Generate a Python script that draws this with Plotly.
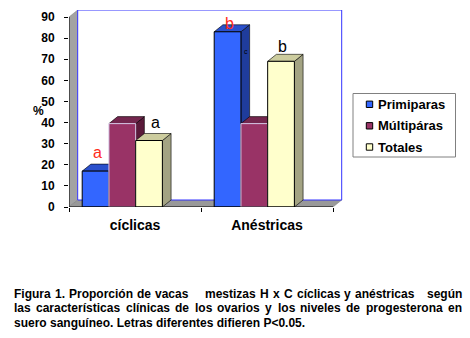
import plotly.graph_objects as go

# ---- data -------------------------------------------------------------
categories = ["cíclicas", "Anéstricas"]
series = ["Primiparas", "Múltipáras", "Totales"]
primiparas = [17.0, 83.0]
multiparas = [39.5, 39.5]
totales = [31.5, 69.0]
values = [primiparas, multiparas, totales]
y_ticks = [0, 10, 20, 30, 40, 50, 60, 70, 80, 90]

# significance letters: (series index, category index, letter, colour, xshift, yshift)
letters = [
    (0, 0, "a", "#FF2A1A", 2, 19),
    (2, 0, "a", "#000000", 6, 18),
    (0, 1, "b", "#FF2A1A", 2, 8),
    (2, 1, "b", "#000000", 1, 15),
]

caption_lines = [
    "Figura 1. Proporción de vacas    mestizas H x C cíclicas y anéstricas   según",
    "las características clínicas de los ovarios y los niveles de progesterona en",
    "suero sanguíneo. Letras diferentes difieren P<0.05.",
]

# ---- styling ----------------------------------------------------------
front = ["#3366FF", "#993366", "#FFFFCC"]
top = ["#2A50CC", "#74264E", "#CCCC9E"]
side = ["#1F3C9C", "#5A1A3A", "#A3A383"]
edge = ["#000000", "#D8C8E8", "#000000"]
FONT = "Liberation Sans, Arial, sans-serif"

W, H = 470, 338
ML, MR, MT, MB = 69, 126, 10, 131
PW, PH = W - ML - MR, H - MT - MB
PX_PER_CAT = 132.0          # pixels per category slot
PX_PER_UNIT = 190.0 / 90.0  # pixels per percentage point
XMAX = PW / PX_PER_CAT
YMAX = PH / PX_PER_UNIT
DX = 8.7 / PX_PER_CAT       # depth offset (x)
DY = 7.0 / PX_PER_UNIT      # depth offset (y)
G0, BW = 0.1, 0.2025        # group start and bar width within a slot


def pxx(px):
    return (px - ML) / PW


def pxy(py):
    return (H - MB - py) / PH


fig = go.Figure()

# front faces of the columns
for j, name in enumerate(series):
    xs = [i + G0 + (j + 0.5) * BW for i in range(len(categories))]
    fig.add_trace(go.Bar(
        x=xs, y=values[j], width=BW, name=name, showlegend=False,
        marker=dict(color=front[j], line=dict(color=edge[j], width=1)),
    ))

shapes = []
# side wall and floor
shapes.append(dict(type="path", layer="below",
                   path=f"M 0,0 L 0,90 L {DX},{90 + DY} L {DX},{DY} Z",
                   fillcolor="#A3A3A3", line=dict(color="#7F7F7F", width=0.5)))
shapes.append(dict(type="path", layer="below",
                   path=f"M 0,0 L {DX},{DY} L {2 + DX},{DY} L 2,0 Z",
                   fillcolor="#999999", line=dict(color="#7F7F7F", width=0.5)))
# back wall
shapes.append(dict(type="rect", layer="below", x0=DX, y0=DY, x1=2 + DX, y1=90 + DY,
                   fillcolor="white", line=dict(color="#3333FF", width=1)))

# depth faces of each column, painted left to right
for i in range(len(categories)):
    for j in range(len(series)):
        v = values[j][i]
        x0 = i + G0 + j * BW
        x1 = x0 + BW
        shapes.append(dict(type="path", layer="below",
                           path=f"M {x1},0 L {x1 + DX},{DY} L {x1 + DX},{v + DY} L {x1},{v} Z",
                           fillcolor=side[j], line=dict(color="#000000", width=0.6)))
        shapes.append(dict(type="path", layer="below",
                           path=f"M {x0},{v} L {x0 + DX},{v + DY} L {x1 + DX},{v + DY} L {x1},{v} Z",
                           fillcolor=top[j], line=dict(color="#000000", width=0.6)))

# front axis lines
shapes.append(dict(type="line", layer="above", x0=0, y0=0, x1=0, y1=90,
                   line=dict(color="#000000", width=1)))
shapes.append(dict(type="line", layer="above", x0=0, y0=0, x1=2, y1=0,
                   line=dict(color="#000000", width=1)))

annotations = []
for j, i, txt, col, xs, ys in letters:
    annotations.append(dict(x=i + G0 + (j + 0.5) * BW, y=values[j][i], xref="x", yref="y",
                            text=txt, showarrow=False, xshift=xs, yshift=ys,
                            font=dict(family=FONT, size=16, color=col)))
# small stray mark on the side of the tall column
annotations.append(dict(x=1 + G0 + BW, y=primiparas[1], xref="x", yref="y", text="c",
                        showarrow=False, xshift=5.5, yshift=-19.5,
                        font=dict(family=FONT, size=7, color="#000000")))

# value-axis title
annotations.append(dict(x=pxx(31), y=pxy(111), xref="paper", yref="paper", text="%",
                        showarrow=False, font=dict(family=FONT, size=12, color="#000000", weight="bold")))

# legend box
LX0, LX1, LY0, LY1 = 353, 455.5, 93.5, 157
shapes.append(dict(type="rect", xref="paper", yref="paper", layer="above",
                   x0=pxx(LX0), x1=pxx(LX1), y0=pxy(LY1), y1=pxy(LY0),
                   fillcolor="white", line=dict(color="#808080", width=1)))
for j, (name, yc) in enumerate(zip(series, [104.3, 125.8, 147.0])):
    shapes.append(dict(type="rect", xref="paper", yref="paper", layer="above",
                       x0=pxx(366.3), x1=pxx(372.7), y0=pxy(yc + 3.2), y1=pxy(yc - 3.2),
                       fillcolor=front[j], line=dict(color="#000000", width=1)))
    annotations.append(dict(x=pxx(375.5), y=pxy(yc), xref="paper", yref="paper", text=name,
                            xanchor="left", yanchor="middle", showarrow=False,
                            font=dict(family=FONT, size=13, color="#000000", weight="bold")))

# caption, justified between the margins
CW = {" ": 278, ".": 278, ",": 278, "<": 584, "A": 722, "C": 722, "F": 611, "H": 722,
      "L": 611, "M": 833, "P": 667, "T": 611, "a": 556, "b": 611, "c": 556, "d": 611,
      "e": 556, "f": 333, "g": 611, "h": 611, "i": 278, "l": 278, "m": 889, "n": 611,
      "o": 611, "p": 611, "r": 389, "s": 556, "t": 333, "u": 611, "v": 556, "x": 556,
      "y": 556, "z": 500, "á": 556, "é": 556, "í": 278, "ó": 611, "ú": 611}


def text_w(s, size):
    return sum(CW.get(ch, 556) for ch in s) / 1000.0 * size


CAP_SIZE = 12
CAP_L, CAP_R = 12, 460
cap_y = [293.8, 308.3, 322.8]
for k, line in enumerate(caption_lines):
    fnt = dict(family=FONT, size=CAP_SIZE, color="#000000", weight="bold")
    if k == len(caption_lines) - 1:
        annotations.append(dict(x=pxx(CAP_L), y=pxy(cap_y[k]), xref="paper", yref="paper",
                                text=line, xanchor="left", yanchor="middle",
                                showarrow=False, font=fnt))
        continue
    tokens = line.split(" ")
    gaps = len(tokens) - 1
    natural = sum(text_w(t, CAP_SIZE) for t in tokens)
    gap = (CAP_R - CAP_L - natural) / gaps
    x = CAP_L
    for t in tokens:
        if t:
            annotations.append(dict(x=pxx(x), y=pxy(cap_y[k]), xref="paper", yref="paper",
                                    text=t, xanchor="left", yanchor="middle",
                                    showarrow=False, font=fnt))
        x += text_w(t, CAP_SIZE) + gap

fig.update_layout(
    width=W, height=H, autosize=False,
    margin=dict(l=ML, r=MR, t=MT, b=MB, pad=0),
    paper_bgcolor="white", plot_bgcolor="white",
    barmode="overlay", showlegend=False,
    font=dict(family=FONT, color="#000000"),
    shapes=shapes, annotations=annotations,
    xaxis=dict(range=[0, XMAX], showgrid=False, zeroline=False, showline=False,
               tickmode="array", tickvals=[i + 0.5 for i in range(len(categories))],
               ticktext=categories, ticks="", ticklabelstandoff=8,
               tickfont=dict(family=FONT, size=14, color="#000000", weight="bold"),
               minor=dict(tickmode="array", tickvals=[0, 1, 2], ticks="outside",
                          ticklen=4, tickcolor="#000000", tickwidth=1, showgrid=False)),
    yaxis=dict(range=[0, YMAX], showgrid=False, zeroline=False, showline=False,
               tickmode="array", tickvals=y_ticks, ticks="outside", ticklen=4,
               tickcolor="#000000", tickwidth=1, ticklabelstandoff=7,
               tickfont=dict(family=FONT, size=12, color="#000000", weight="bold")),
)

fig.write_html("out.html")
